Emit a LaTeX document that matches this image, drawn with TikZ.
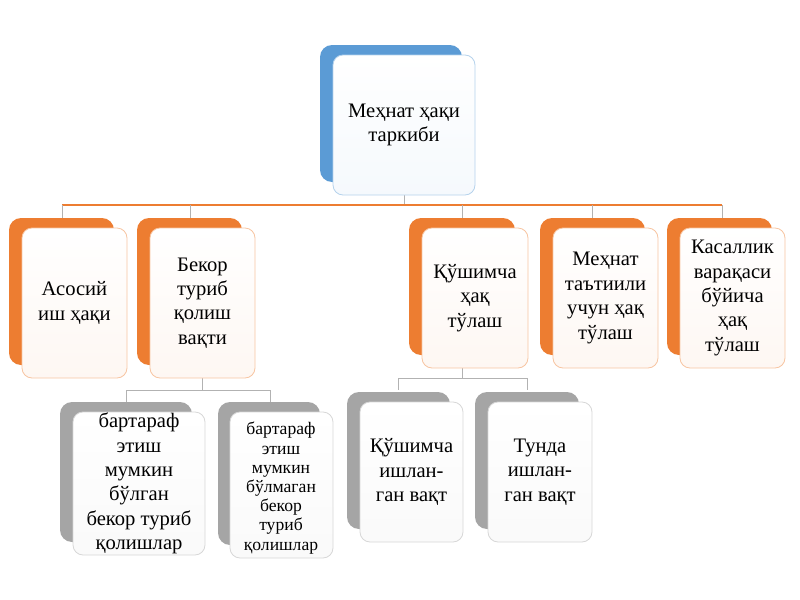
\documentclass[tikz,border=0pt]{standalone}
\usepackage{fontspec}
\setmainfont{Liberation Serif}
\begin{document}
\begin{tikzpicture}[x=0.5pt,y=-0.5pt,
 sh/.style={rounded corners=6pt,draw=none},
 fr/.style={rounded corners=5pt,draw=#1!45!white,line width=0.4pt,top color=white,bottom color=#1!6!white},
 lbl/.style={font=\fontsize{10.3}{12.2}\selectfont,align=center,text=black},
 ln/.style={draw=black!30,line width=0.4pt}]
\definecolor{cb}{HTML}{5B9BD5}\definecolor{co}{HTML}{ED7D31}\definecolor{cg}{HTML}{A5A5A5}
\useasboundingbox (0,0) rectangle (800,600);
% connectors
\draw[ln] (404,195) -- (404,205);
\draw[co,line width=0.6pt] (62,205) -- (722,205);
\foreach \x in {62,190,462,592,722} \draw[ln] (\x,205) -- (\x,218);
\draw[ln] (202,378) -- (202,390);
\draw[ln] (126,390) -- (270,390);
\foreach \x in {126,270} \draw[ln] (\x,390) -- (\x,402);
\draw[ln] (462,368) -- (462,378);
\draw[ln] (398,378) -- (527,378);
\foreach \x in {398,527} \draw[ln] (\x,378) -- (\x,390);
% boxes
\fill[sh,cb] (320,45) rectangle (462,182);
\draw[fr=cb] (333,55) rectangle (475,195);
\node[lbl] (root) at (404,125) {Меҳнат ҳақи\\таркиби};
\foreach \a/\b/\c/\d/\col/\t in {
 22/228/127/378/co/{Асосий\\иш ҳақи},
 150/228/255/378/co/{Бекор\\туриб\\қолиш\\вақти},
 422/228/528/368/co/{Қўшимча\\ҳақ\\тўлаш},
 553/228/658/368/co/{Меҳнат\\таътиили\\учун ҳақ\\тўлаш},
 680/228/785/368/co/{Касаллик\\варақаси\\бўйича\\ҳақ\\тўлаш},
 73/412/205/555/cg/{бартараф\\этиш\\мумкин\\бўлган\\бекор туриб\\қолишлар},
 360/402/463/542/cg/{Қўшимча\\ишлан-\\ган вақт},
 488/402/592/542/cg/{Тунда\\ишлан-\\ган вақт}}{
 \fill[sh,\col] (\a-13,\b-10) rectangle (\c-13,\d-13);
 \draw[fr=\col] (\a,\b) rectangle (\c,\d);
 \node[lbl] at ({(\a+\c)/2},{(\b+\d)/2}) {\t};
}
\fill[sh,cg] (218,402) rectangle (320,545);
\draw[fr=cg] (230,412) rectangle (333,558);
\node[lbl,font=\fontsize{8.8}{9.6}\selectfont] (b2) at (281,488) {бартараф\\этиш\\мумкин\\бўлмаган\\бекор\\туриб\\қолишлар};
\end{tikzpicture}
\end{document}
